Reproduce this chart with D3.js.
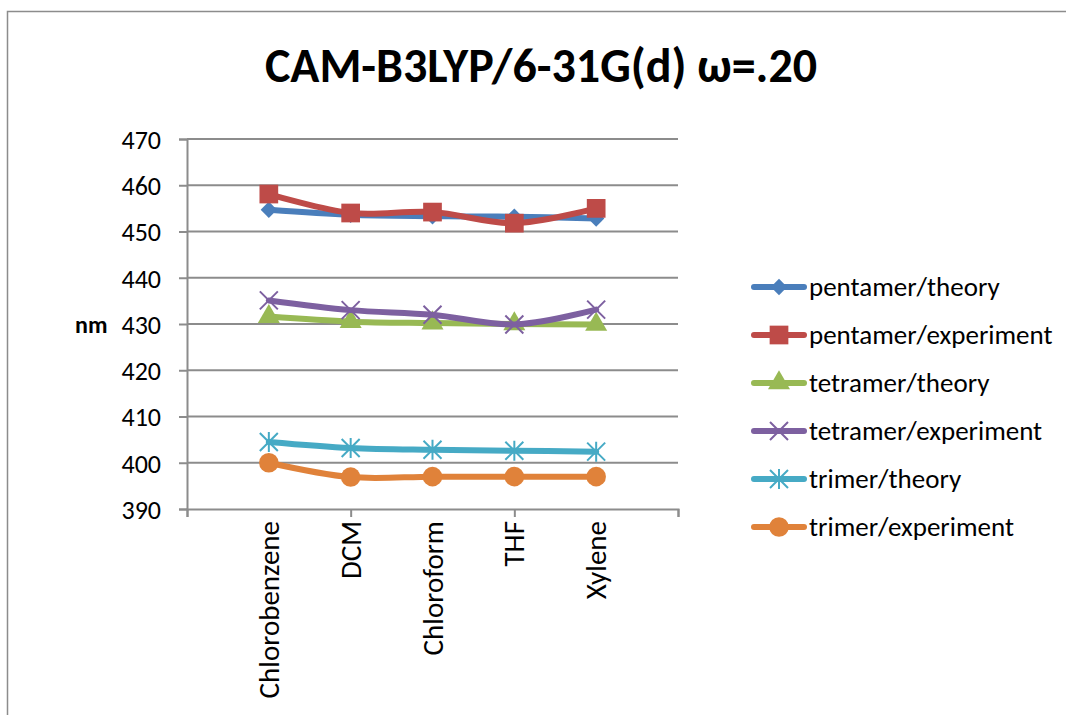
<!DOCTYPE html>
<html>
<head>
<meta charset="utf-8">
<script src="https://cdn.jsdelivr.net/npm/d3@7"></script>
<style>
body { margin: 0; background: #fff; }
text { font-family: Carlito, Calibri, "Open Sans", sans-serif; }
</style>
</head>
<body>
<script>
var width = 1066;
var height = 715;

// data
var solvents = ["Chlorobenzene", "DCM", "Chloroform", "THF", "Xylene"];
var seriesNames = ["pentamer/theory", "pentamer/experiment", "tetramer/theory",
    "tetramer/experiment", "trimer/theory", "trimer/experiment"];
var pentamerTheory = [454.7, 453.6, 453.3, 453.2, 452.8];
var pentamerExperiment = [458.1, 454.0, 454.2, 451.8, 455.0];
var tetramerTheory = [431.6, 430.5, 430.2, 430.0, 429.9];
var tetramerExperiment = [435.1, 433.0, 432.0, 429.9, 433.1];
var trimerTheory = [404.5, 403.2, 402.8, 402.6, 402.4];
var trimerExperiment = [400.0, 396.9, 397.0, 397.0, 397.0];
var yTicks = [390, 400, 410, 420, 430, 440, 450, 460, 470];

var colors = ["#4a7ebb", "#be4b48", "#98b954", "#7d60a0", "#46aac5", "#e0823a"];
var markers = ["diamond", "square", "triangle", "x", "star", "circle"];
var allValues = [pentamerTheory, pentamerExperiment, tetramerTheory,
    tetramerExperiment, trimerTheory, trimerExperiment];

var svg = d3.select("body")
    .append("svg")
    .attr("width", width)
    .attr("height", height);

// chart area border
svg.append("rect")
    .attr("x", 7.5).attr("y", 11.5)
    .attr("width", 1070).attr("height", 720)
    .attr("fill", "none")
    .attr("stroke", "#8c8c8c")
    .attr("stroke-width", 1.5);

svg.append("text")
    .attr("x", 541)
    .attr("y", 82)
    .attr("text-anchor", "middle")
    .style("font-size", "48px")
    .style("font-weight", "bold")
    .text("CAM-B3LYP/6-31G(d) ω=.20");

// x has an empty slot on each side, ticks every second slot
var x = d3.scaleLinear().domain([0, 6]).range([187, 678]);
var y = d3.scaleLinear().domain([390, 470]).range([509, 139]);

// gridlines
svg.append("g")
    .selectAll("line")
    .data(yTicks.slice(1))
    .enter()
    .append("line")
    .attr("x1", 187).attr("x2", 678)
    .attr("y1", function(d) { return y(d); })
    .attr("y2", function(d) { return y(d); })
    .attr("stroke", "#8c8c8c")
    .attr("stroke-width", 2);

var yAxis = svg.append("g")
    .attr("transform", "translate(187,0)")
    .call(d3.axisLeft(y).tickValues(yTicks).tickSize(8).tickPadding(18));
yAxis.select(".domain").attr("stroke", "#8c8c8c").attr("stroke-width", 2);
yAxis.selectAll(".tick line").attr("stroke", "#8c8c8c").attr("stroke-width", 2);
yAxis.selectAll(".tick text")
    .attr("fill", "#000")
    .attr("dy", "0.36em")
    .style("font-size", "26px")
    .style("font-family", "Carlito, Calibri, 'Open Sans', sans-serif");

var xAxis = svg.append("g")
    .attr("transform", "translate(0,509)")
    .call(d3.axisBottom(x).tickValues([0, 2, 4, 6]).tickSize(8).tickFormat(""));
xAxis.select(".domain").attr("stroke", "#8c8c8c").attr("stroke-width", 2);
xAxis.selectAll(".tick line").attr("stroke", "#8c8c8c").attr("stroke-width", 2);

svg.append("g")
    .selectAll("text")
    .data(solvents)
    .enter()
    .append("text")
    .attr("transform", function(d, i) {
        return "translate(" + (x(i + 1) + 10) + ",521) rotate(-90)";
    })
    .attr("text-anchor", "end")
    .style("font-size", "29px")
    .text(function(d) { return d; });

svg.append("text")
    .attr("x", 75)
    .attr("y", 333)
    .style("font-size", "24px")
    .style("font-weight", "bold")
    .text("nm");

function markerPath(type) {
    if (type == "diamond") return d3.symbol(d3.symbolDiamond2, 170)();
    if (type == "square") return d3.symbol(d3.symbolSquare, 350)();
    if (type == "triangle") return d3.symbol(d3.symbolTriangle, 210)();
    if (type == "circle") return d3.symbol(d3.symbolCircle, 300)();
    if (type == "x") return "M-9,-9L9,9M-9,9L9,-9";
    if (type == "star") return "M-9,-9L9,9M-9,9L9,-9M0,-10L0,10";
}
function markerStyle(sel, type, color) {
    if (type == "x" || type == "star") {
        sel.attr("fill", "none").attr("stroke", color).attr("stroke-width", 2);
    } else {
        sel.attr("fill", color).attr("stroke", "none");
    }
}

var line = d3.line()
    .x(function(d, i) { return x(i + 1); })
    .y(function(d) { return y(d); })
    .curve(d3.curveCatmullRom.alpha(0.5));

allValues.forEach(function(vals, s) {
    var g = svg.append("g");
    g.append("path")
        .datum(vals)
        .attr("d", line)
        .attr("fill", "none")
        .attr("stroke", colors[s])
        .attr("stroke-width", 6)
        .attr("stroke-linecap", "round");
    g.selectAll("path.m")
        .data(vals)
        .enter()
        .append("path")
        .attr("class", "m")
        .attr("transform", function(d, i) { return "translate(" + x(i + 1) + "," + y(d) + ")"; })
        .attr("d", markerPath(markers[s]))
        .call(markerStyle, markers[s], colors[s]);
});

// legend
var legend = svg.append("g");
seriesNames.forEach(function(name, s) {
    var ly = 287 + s * 48;
    legend.append("line")
        .attr("x1", 754).attr("x2", 804)
        .attr("y1", ly).attr("y2", ly)
        .attr("stroke", colors[s])
        .attr("stroke-width", 6)
        .attr("stroke-linecap", "round");
    legend.append("path")
        .attr("transform", "translate(779," + ly + ")")
        .attr("d", markerPath(markers[s]))
        .call(markerStyle, markers[s], colors[s]);
    legend.append("text")
        .attr("x", 809)
        .attr("y", ly + 9)
        .style("font-size", "27px")
        .text(name);
});
</script>
</body>
</html>
